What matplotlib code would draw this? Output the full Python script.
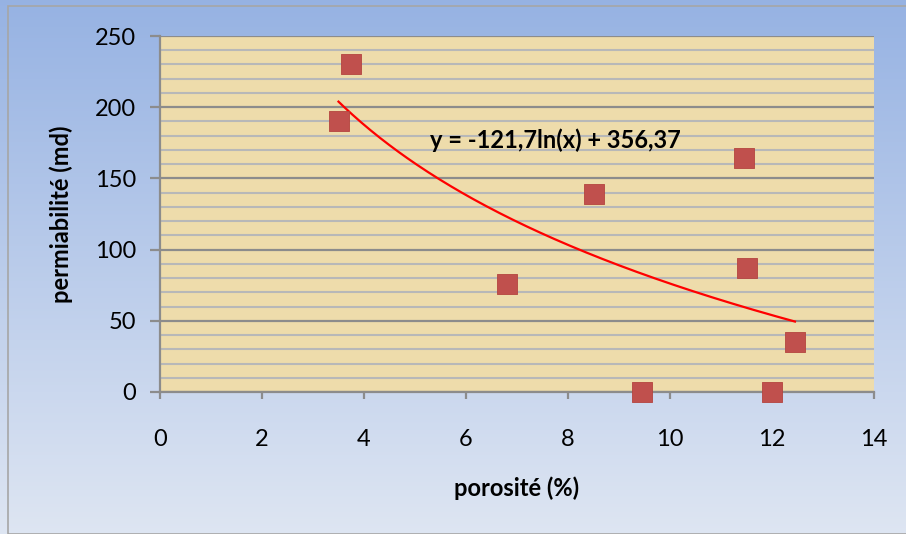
import numpy as np
import matplotlib.pyplot as plt
from matplotlib.patches import Rectangle
from matplotlib.ticker import MultipleLocator

# mesures porosité / perméabilité
porosite = [3.75, 3.5, 6.8, 8.5, 9.45, 11.45, 11.5, 12.0, 12.45]
permeabilite = [230, 190, 76, 139, 0, 164, 87, 0, 35]

# courbe de tendance logarithmique
coef_a, coef_b = -121.7, 356.37
equation = "y = -121,7ln(x) + 356,37"

plt.rcParams['font.family'] = ['Lato', 'DejaVu Sans']
fs = 17

fig = plt.figure(figsize=(9.06, 5.34), dpi=100)

# fond degrade bleu de la figure
bg = fig.add_axes([0, 0, 1, 1], zorder=-10)
grad = np.linspace(0, 1, 256).reshape(-1, 1)
top = np.array([0.59, 0.70, 0.89])
bot = np.array([0.87, 0.90, 0.95])
img = top[None, None, :] * (1 - grad[:, :, None]) + bot[None, None, :] * grad[:, :, None]
bg.imshow(img, aspect='auto', extent=[0, 1, 0, 1])
bg.add_patch(Rectangle((8 / 906, 0.5 / 534), 1, (534 - 6.5) / 534, fill=False,
                       edgecolor='#a6a6a6', linewidth=1.2))
bg.set_xlim(0, 1)
bg.set_ylim(0, 1)
bg.axis('off')

ax = fig.add_axes([160 / 906, 1 - 392 / 534, 714 / 906, 356 / 534])
ax.set_facecolor('#eedcab')

ax.set_xlim(0, 14)
ax.set_ylim(0, 250)
ax.xaxis.set_major_locator(MultipleLocator(2))
ax.yaxis.set_major_locator(MultipleLocator(50))
ax.yaxis.set_minor_locator(MultipleLocator(10))

ax.grid(which='minor', axis='y', color='#b8b8b8', linewidth=1.5, zorder=1)
ax.grid(which='major', axis='y', color='#8c8c8c', linewidth=1.6, zorder=1)
ax.set_axisbelow(True)

for s in ['top', 'right']:
    ax.spines[s].set_visible(False)
for s in ['left', 'bottom']:
    ax.spines[s].set_color('#8c8c8c')
    ax.spines[s].set_linewidth(1.6)

ax.tick_params(axis='y', which='minor', length=0)
ax.tick_params(axis='both', which='major', color='#8c8c8c', width=1.6,
               labelsize=fs, labelcolor='black')
ax.tick_params(axis='y', length=7, pad=10)
ax.tick_params(axis='x', length=5, pad=22)

ax.scatter(porosite, permeabilite, marker='s', s=190, color='#c0504d',
           edgecolors='#b4443f', linewidths=0.6, zorder=4, clip_on=False)

xt = np.linspace(min(porosite), max(porosite), 200)
ax.plot(xt, coef_a * np.log(xt) + coef_b, color='#ff0000', linewidth=1.6, zorder=3)

ax.text(5.3, 177, equation, fontsize=fs, fontweight='bold', va='center', ha='left')

ax.set_xlabel('porosité (%)', fontsize=fs, fontweight='bold', labelpad=19)
ax.set_ylabel('permiabilité (md)', fontsize=fs, fontweight='bold', labelpad=16)

fig.savefig('out.png', dpi=100)
